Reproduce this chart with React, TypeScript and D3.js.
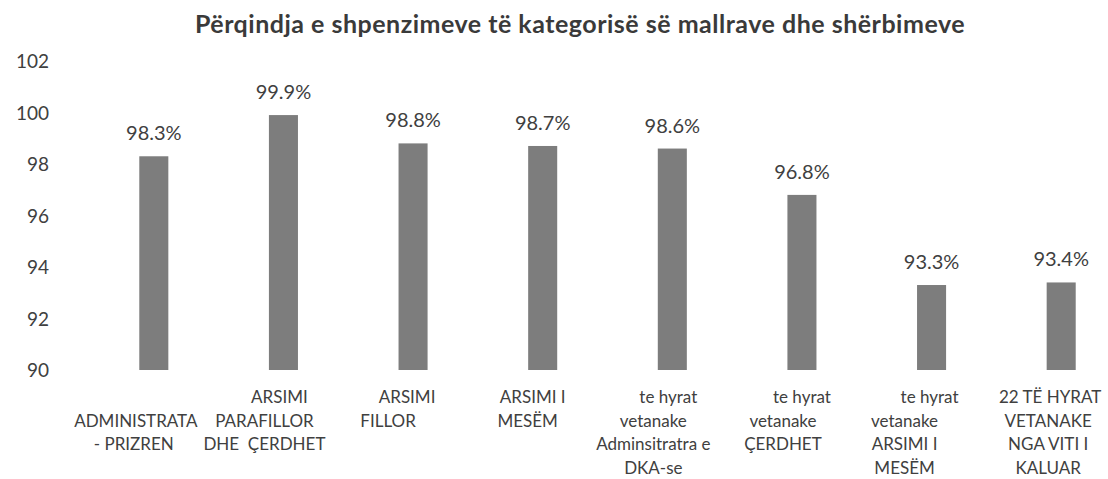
import { useEffect, useRef } from "react";
import * as d3 from "d3";

const W = 1108;
const H = 479;

const TITLE = "Përqindja e shpenzimeve të kategorisë së mallrave dhe shërbimeve";

// category labels, one entry per wrapped line (as printed)
const CATEGORY_LINES = [
  ["ADMINISTRATA", "- PRIZREN"],
  ["ARSIMI", "PARAFILLOR", "DHE  ÇERDHET"],
  ["ARSIMI", "FILLOR"],
  ["ARSIMI I", "MESËM"],
  ["te hyrat", "vetanake", "Adminsitratra e", "DKA-se"],
  ["te hyrat", "vetanake", "ÇERDHET"],
  ["te hyrat", "vetanake", "ARSIMI I", "MESËM"],
  ["22 TË HYRAT", "VETANAKE", "NGA VITI I", "KALUAR"],
];
const CATEGORIES = CATEGORY_LINES.map(l => l.join(" "));
const VALUES = [98.3, 99.9, 98.8, 98.7, 98.6, 96.8, 93.3, 93.4];
const Y_TICKS = [90, 92, 94, 96, 98, 100, 102];

// label block nudges (Excel wrapped these labels unevenly)
const LABEL_SHIFT = [-20, -19, -25, -15, -19, -19, -27, -13];
const FIRST_LINE_INDENT = [2, 15, 19, 5, 15, 19, 25, 2];
const START_ROW = [1, 0, 0, 0, 0, 0, 0, 0];

const FONT = "Lato, 'Open Sans', sans-serif";
const TEXT = "#404040";
const BAR = "#7d7d7d";

export default function App() {
  const svgRef = useRef<SVGSVGElement>(null);

  useEffect(() => {
    document.body.style.margin = "0";
    if (!svgRef.current) return;
    const svg = d3.select(svgRef.current);
    svg.selectAll("*").remove();

    const x = d3.scaleBand<string>()
      .domain(CATEGORIES)
      .range([89, 1126])
      .paddingInner(0.776)
      .paddingOuter(0.388);
    const y = d3.scaleLinear().domain([90, 102]).range([370, 61]);

    svg.append("rect").attr("width", W).attr("height", H).attr("fill", "#fff");

    // title
    svg.append("text")
      .attr("x", 580).attr("y", 33)
      .attr("text-anchor", "middle")
      .attr("font-family", FONT)
      .attr("font-weight", "bold")
      .attr("font-size", 25)
      .attr("letter-spacing", 0.5)
      .attr("fill", "#3a3a3a")
      .text(TITLE);

    // y axis labels (no axis line, no gridlines)
    svg.append("g")
      .selectAll("text")
      .data(Y_TICKS)
      .join("text")
      .attr("x", 49)
      .attr("y", d => y(d) + 7)
      .attr("text-anchor", "end")
      .attr("font-family", FONT)
      .attr("font-size", 19)
      .attr("fill", TEXT)
      .text(d => String(d));

    // bars
    svg.append("g")
      .selectAll("rect")
      .data(VALUES)
      .join("rect")
      .attr("x", (_, i) => x(CATEGORIES[i]) ?? 0)
      .attr("y", d => y(d))
      .attr("width", x.bandwidth())
      .attr("height", d => y(90) - y(d))
      .attr("fill", BAR);

    // value labels
    svg.append("g")
      .selectAll("text")
      .data(VALUES)
      .join("text")
      .attr("x", (_, i) => (x(CATEGORIES[i]) ?? 0) + x.bandwidth() / 2)
      .attr("y", d => y(d) - 16)
      .attr("text-anchor", "middle")
      .attr("font-family", FONT)
      .attr("font-size", 20)
      .attr("fill", TEXT)
      .text(d => `${d.toFixed(1)}%`);

    // category labels
    const cat = svg.append("g")
      .selectAll("text")
      .data(CATEGORY_LINES)
      .join("text")
      .attr("text-anchor", "middle")
      .attr("font-family", FONT)
      .attr("font-size", 17)
      .attr("fill", TEXT);

    cat.each(function (lines, i) {
      const cx = (x(CATEGORIES[i]) ?? 0) + x.bandwidth() / 2 + LABEL_SHIFT[i];
      d3.select(this)
        .selectAll("tspan")
        .data(lines)
        .join("tspan")
        .attr("x", (_, j) => cx + (j === 0 ? FIRST_LINE_INDENT[i] : 0))
        .attr("y", (_, j) => 403 + (j + START_ROW[i]) * 23.5)
        .style("white-space", "pre")
        .text(d => d);
    });
  }, []);

  return (
    <svg
      ref={svgRef}
      width={W}
      height={H}
      style={{ display: "block", position: "absolute", left: 0, top: 0 }}
    />
  );
}
